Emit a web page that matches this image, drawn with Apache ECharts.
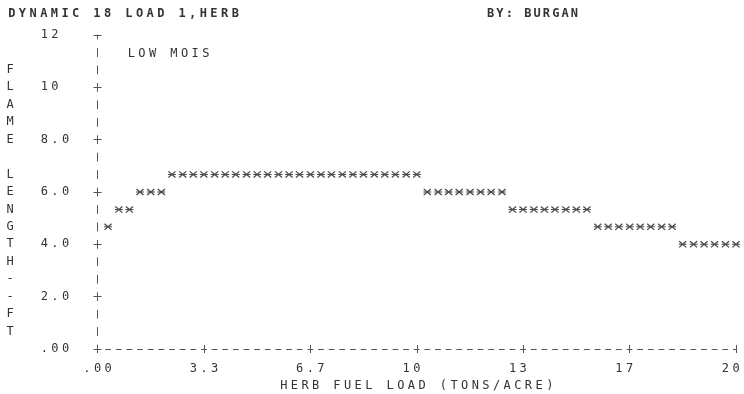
<!DOCTYPE html>
<html>
<head>
<meta charset="utf-8">
<script src="https://cdn.jsdelivr.net/npm/echarts@6/dist/echarts.min.js"></script>
<style>
  html, body { margin: 0; padding: 0; background: #fff; }
  #chart { width: 744px; height: 394px; }
</style>
</head>
<body>
<div id="chart"></div>
<script>
// Herb fuel load (tons/acre) for each printed column of the plot
const herbLoad = [
  0.33, 0.67, 1.00, 1.33, 1.67, 2.00, 2.33, 2.67, 3.00, 3.33,
  3.67, 4.00, 4.33, 4.67, 5.00, 5.33, 5.67, 6.00, 6.33, 6.67,
  7.00, 7.33, 7.67, 8.00, 8.33, 8.67, 9.00, 9.33, 9.67, 10.00,
  10.33, 10.67, 11.00, 11.33, 11.67, 12.00, 12.33, 12.67, 13.00, 13.33,
  13.67, 14.00, 14.33, 14.67, 15.00, 15.33, 15.67, 16.00, 16.33, 16.67,
  17.00, 17.33, 17.67, 18.00, 18.33, 18.67, 19.00, 19.33, 19.67, 20.00
];
// Flame length (ft) at each of those loads
const flameLength = [
  4.67, 5.33, 5.33, 6.00, 6.00, 6.00, 6.67, 6.67, 6.67, 6.67,
  6.67, 6.67, 6.67, 6.67, 6.67, 6.67, 6.67, 6.67, 6.67, 6.67,
  6.67, 6.67, 6.67, 6.67, 6.67, 6.67, 6.67, 6.67, 6.67, 6.67,
  6.00, 6.00, 6.00, 6.00, 6.00, 6.00, 6.00, 6.00, 5.33, 5.33,
  5.33, 5.33, 5.33, 5.33, 5.33, 5.33, 4.67, 4.67, 4.67, 4.67,
  4.67, 4.67, 4.67, 4.67, 4.00, 4.00, 4.00, 4.00, 4.00, 4.00
];
// Printed tick labels, three columns wide and centred on the tick column
const xTickLabels = ['.00', '3.3', '6.7', '10 ', '13 ', '17 ', '20 '];
const yTickLabels = ['.00', '2.0', '4.0', '6.0', '8.0', '10', '12'];
const seriesName = 'LOW MOIS';
const titleText = 'DYNAMIC 18 LOAD 1,HERB';
const authorText = 'BY: BURGAN';
const xName = 'HERB FUEL LOAD (TONS/ACRE)';
const yName = 'FLAME LENGTH--FT';

// Line-printer look: every character sits in its own fixed-width cell
const CELL = 10.64;
const ROW = 17.44;
const INK = '#333';
const MARK = '#555';
const FONT = 'DejaVu Sans Mono';
const baseCell = { align: 'center', fontFamily: FONT, fontSize: 12, color: INK };
const rich = {
  c: Object.assign({ width: CELL, lineHeight: 14 }, baseCell),
  n: Object.assign({ width: 9.3, lineHeight: 14 }, baseCell),
  v: Object.assign({ width: CELL, lineHeight: ROW }, baseCell)
};
function cells(s, key) {
  key = key || 'c';
  return s.split('').map(ch => '{' + key + '|' + (ch === ' ' ? '\u00a0' : ch) + '}').join('');
}
const X_STEP = 10 / 3;
const yNameText = (' ' + yName).split('').map(ch => cells(ch, 'v')).join('\n');

// Printer asterisk: two diagonal strokes and a short horizontal bar
const STAR = 'path://M0.9,0L8,6.1L7.1,7L0,0.9ZM7.1,0L8,0.9L0.9,7L0,6.1ZM0,3L8,3L8,4L0,4Z';

const chart = echarts.init(document.getElementById('chart'), null, { renderer: 'canvas' });
chart.setOption({
  animation: false,
  backgroundColor: '#fff',
  title: [
    { text: cells(titleText), left: 6.5, top: 7, padding: 0, textStyle: { rich: rich } },
    { text: cells(authorText, 'n'), left: 486, top: 7, padding: 0, textStyle: { rich: rich } }
  ],
  legend: {
    data: [{ name: seriesName, icon: 'none' }],
    left: 121, top: 48, padding: 0, itemWidth: 0, itemHeight: 0, itemGap: 0,
    selectedMode: false,
    formatter: name => cells(name),
    textStyle: { rich: rich }
  },
  grid: { left: 97.5, right: 8, top: 35, bottom: 45, outerBoundsMode: 'none' },
  xAxis: [
    {
      type: 'value', min: 0, max: 20, interval: X_STEP, position: 'bottom',
      name: cells(xName), nameLocation: 'middle', nameGap: 29,
      nameTextStyle: { rich: rich },
      axisLine: { show: true, lineStyle: { color: MARK, width: 1, type: [5, CELL - 5], dashOffset: 2.5 } },
      axisTick: { show: true, length: 4, lineStyle: { color: MARK, width: 1 } },
      axisLabel: {
        margin: 13,
        formatter: v => cells(xTickLabels[Math.round(v / X_STEP)]),
        rich: rich
      },
      splitLine: { show: false }
    },
    {
      type: 'value', min: 0, max: 20, interval: X_STEP, position: 'bottom',
      axisLine: { show: false },
      axisTick: { show: true, inside: true, length: 4, lineStyle: { color: MARK, width: 1 } },
      axisLabel: { show: false },
      splitLine: { show: false }
    }
  ],
  yAxis: [
    {
      type: 'value', min: 0, max: 12, interval: 2, position: 'left',
      name: yNameText, nameLocation: 'middle', nameGap: 82, nameRotate: 0,
      nameTextStyle: { rich: rich },
      axisLine: { show: true, lineStyle: { color: MARK, width: 1, type: [8, ROW - 8], dashOffset: 4 } },
      axisTick: { show: true, length: 4, lineStyle: { color: MARK, width: 1 } },
      axisLabel: {
        align: 'left', margin: 58.5,
        formatter: v => cells(yTickLabels[Math.round(v / 2)]),
        rich: rich
      },
      splitLine: { show: false }
    },
    {
      type: 'value', min: 0, max: 12, interval: 2, position: 'left',
      axisLine: { show: false },
      axisTick: { show: true, inside: true, length: 4, lineStyle: { color: MARK, width: 1 } },
      axisLabel: { show: false },
      splitLine: { show: false }
    }
  ],
  series: [
    {
      name: seriesName,
      type: 'scatter',
      xAxisIndex: 0, yAxisIndex: 0,
      clip: false,
      symbol: STAR,
      symbolSize: [8, 7],
      itemStyle: { color: '#222', borderWidth: 0 },
      data: herbLoad.map((x, i) => [x, flameLength[i]])
    }
  ]
});
</script>
</body>
</html>
